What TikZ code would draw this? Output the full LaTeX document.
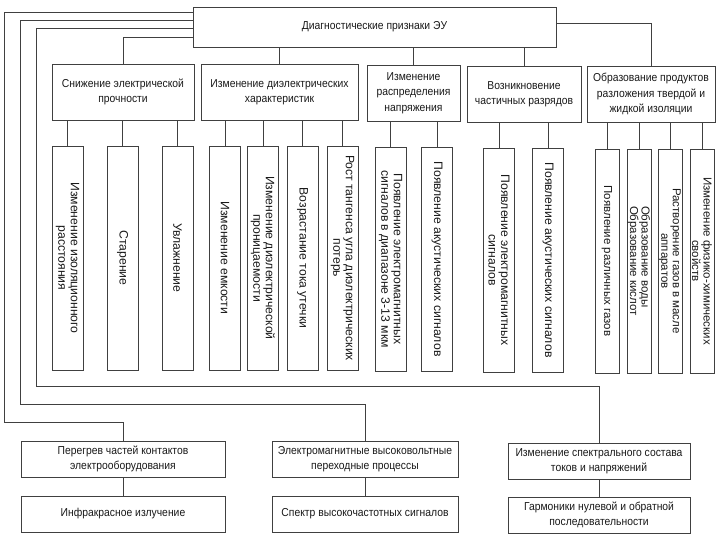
\documentclass[tikz,border=0pt]{standalone}
\usepackage{fontspec}
\setmainfont{Liberation Sans}
\newfontfamily\narrowfont[FakeStretch=0.9]{Liberation Sans}
\usepackage{tikz}

\begin{document}
\begin{tikzpicture}[x=1pt, y=-1pt, color=black!75, line width=0.7pt, every node/.style={draw, rectangle, align=center, inner sep=0pt, text=black!90}]
	\tikzset{
		head/.style={font=\narrowfont\fontsize{11.5}{15.5}\selectfont},
		group/.style={font=\narrowfont\fontsize{11.5}{15.5}\selectfont, minimum height=56pt},
		sign/.style={rotate=-90, font=\fontsize{12.2}{12.5}\selectfont, minimum width=224pt, minimum height=31pt},
		slim/.style={sign, font=\fontsize{11.5}{11.5}\selectfont, minimum height=24pt},
		feature/.style={font=\narrowfont\fontsize{11.5}{15}\selectfont, minimum height=36pt}
	}
	\useasboundingbox (0,0) rectangle (720,540);
	\node[head, minimum width=363pt, minimum height=40pt] (top) at (374.5,27) {Диагностические признаки ЭУ};
	\node[group, minimum width=142pt] (g1) at (123,92)   {Снижение электрической\\прочности};
	\node[group, minimum width=157pt] (g2) at (279.5,92) {Изменение диэлектрических\\характеристик};
	\node[group, minimum width=93pt]  (g3) at (413.5,93) {Изменение\\распределения\\напряжения};
	\node[group, minimum width=114pt] (g4) at (524,94)   {Возникновение\\частичных разрядов};
	\node[group, minimum width=128pt] (g5) at (651,94)   {Образование продуктов\\разложения твердой и\\жидкой изоляции};
	\node[sign] (s1)  at (67.5,258)  {Изменение изоляционного\\расстояния};
	\node[sign] (s2)  at (122.5,258) {Старение};
	\node[sign] (s3)  at (177.5,258) {Увлажнение};
	\node[sign] (s4)  at (225,258)   {Изменение емкости};
	\node[sign] (s5)  at (263,258)   {Изменение диэлектрической\\проницаемости};
	\node[sign] (s6)  at (302.5,258) {Возрастание тока утечки};
	\node[sign] (s7)  at (342.5,258) {Рост тангенса угла диэлектрических\\потерь};
	\node[sign] (s8)  at (390.5,259) {Появление электромагнитных\\сигналов в диапазоне 3-13 мкм};
	\node[sign] (s9)  at (437,259)   {Появление акустических сигналов};
	\node[sign] (s10) at (499,260)   {Появление электромагнитных\\сигналов};
	\node[sign] (s11) at (548,260)   {Появление акустических сигналов};
	\node[slim] (s12) at (607,261)   {Появление различных газов};
	\node[slim, align=left] (s13) at (639,261) {Образование воды\\Образование кислот};
	\node[slim] (s14) at (670,261)   {Растворение газов в масле\\аппаратов};
	\node[slim] (s15) at (702,261)   {Изменение физико-химических\\свойств};
	\node[feature, minimum width=204pt] (b1) at (123,459) {Перегрев частей контактов\\электрооборудования};
	\node[feature, minimum width=204pt] (b2) at (123,514) {Инфракрасное излучение};
	\node[feature, minimum width=186pt] (b3) at (365,459) {Электромагнитные высоковольтные\\переходные процессы};
	\node[feature, minimum width=186pt] (b4) at (365,514) {Спектр высокочастотных сигналов};
	\node[feature, minimum width=182pt] (b5) at (599,461) {Изменение спектрального состава\\токов и напряжений};
	\node[feature, minimum width=182pt] (b6) at (599,515) {Гармоники нулевой и обратной\\последовательности};
	\coordinate (k1) at (4,422);
	\coordinate (k2) at (20,404);
	\coordinate (k3) at (36,386);
	\foreach \to in {g2, g3, g4}
	\draw (top.south -| \to) -- (\to);
	\draw ([yshift=4pt]top.east) -| (g5);
	\draw ([yshift=-31pt]top.north west) -| (g1);
	\draw ([yshift=-6pt]top.north west)  -| (k1) -| (b1);
	\draw ([yshift=-14pt]top.north west) -| (k2) -| (b3);
	\draw ([yshift=-22pt]top.north west) -| (k3) -| (b5);
	\foreach \from/\to in {
		g1/s1, g1/s2, g1/s3,
		g2/s4, g2/s5, g2/s6, g2/s7,
		g3/s8, g3/s9,
		g4/s10, g4/s11,
		g5/s12, g5/s13, g5/s14, g5/s15}
	\draw (\from.south -| \to) -- (\to);
	\foreach \from/\to in {b1/b2, b3/b4, b5/b6}
	\draw (\from) -- (\to);
\end{tikzpicture}
\end{document}
